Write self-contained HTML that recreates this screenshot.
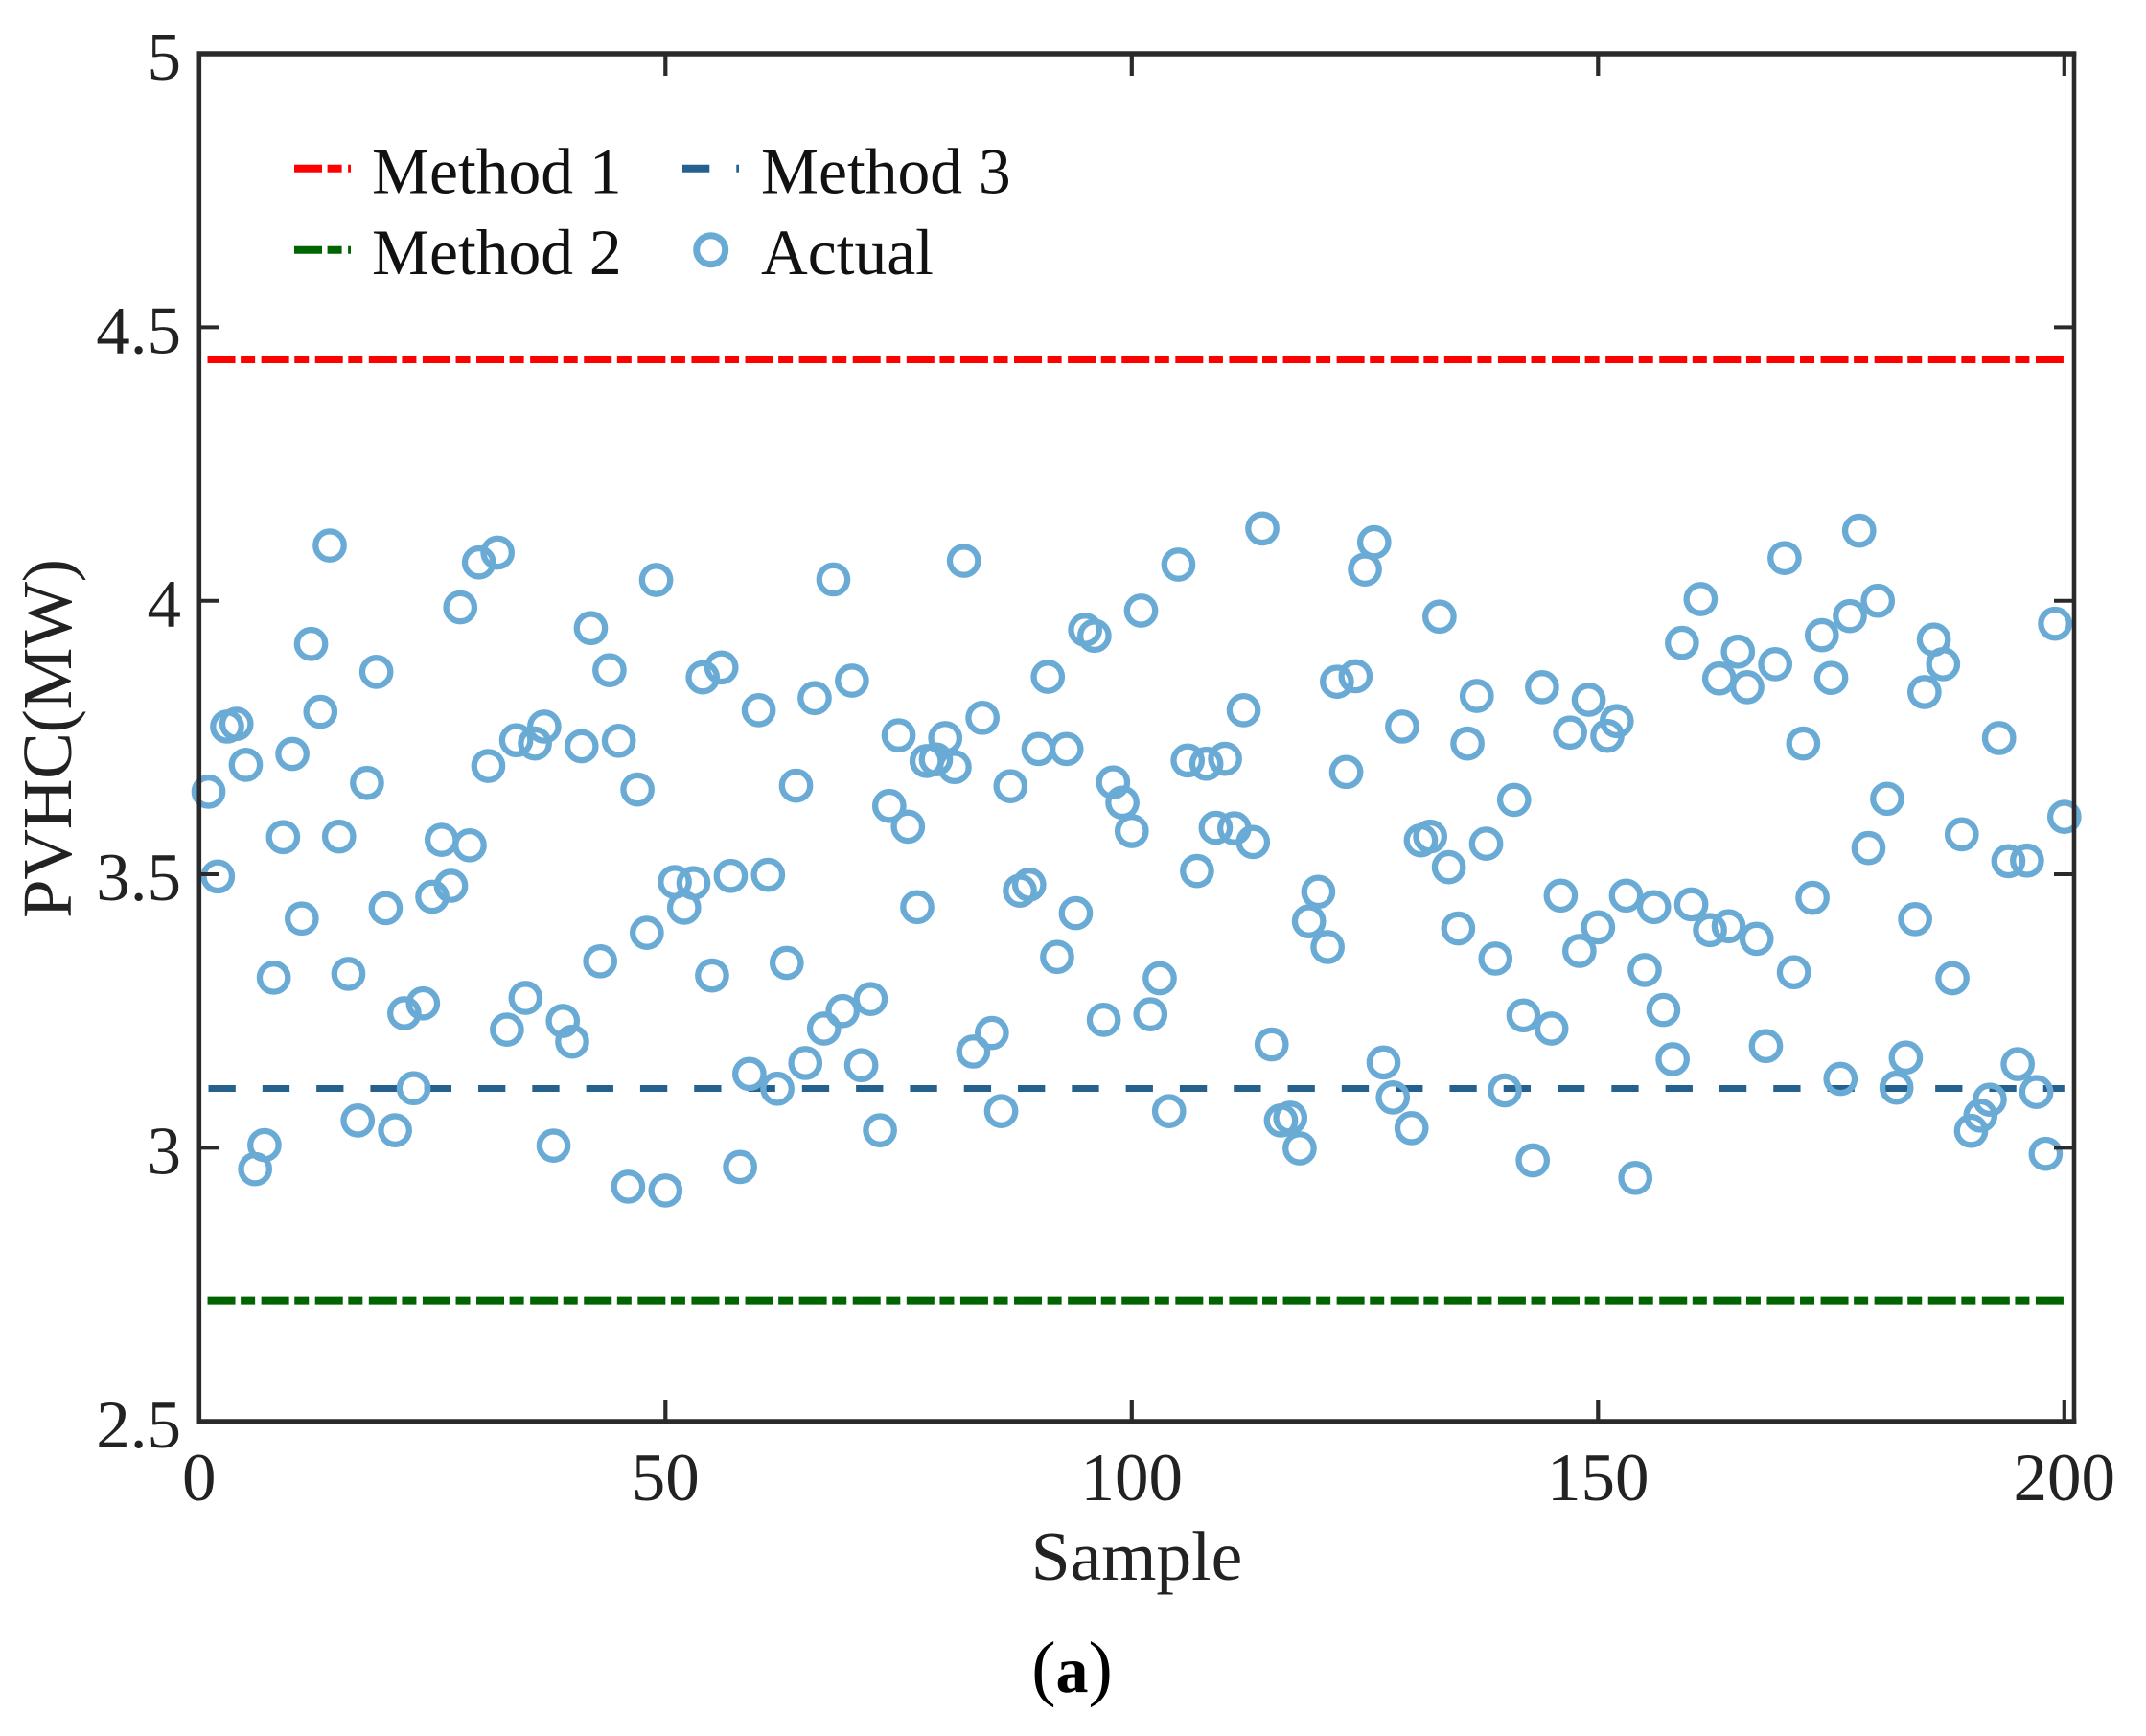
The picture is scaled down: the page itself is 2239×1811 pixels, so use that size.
<!DOCTYPE html>
<html lang="en">
<head>
<meta charset="utf-8">
<title>PVHC by Sample</title>
<style>
  html, body { margin: 0; padding: 0; background: #ffffff; }
  body { width: 2239px; height: 1811px; overflow: hidden; }
  svg { display: block; }
  text { font-family: "Liberation Serif", serif; fill: #222222; }
</style>
</head>
<body>
<svg id="chart" xmlns="http://www.w3.org/2000/svg" width="2239" height="1811" viewBox="0 0 2239 1811">
  <rect x="0" y="0" width="2239" height="1811" fill="#ffffff"/>
  <g id="method-lines"></g>
  <g id="actual-points"></g>
  <g id="ticks"></g>
  <g id="tick-labels" font-size="71"></g>
  <g stroke="#2a2a2a" fill="none">
    <line x1="205.5" x2="2166.3" y1="56" y2="56" stroke-width="5.5"/>
    <line x1="205.5" x2="2166.3" y1="1482.7" y2="1482.7" stroke-width="5"/>
    <line x1="207.8" x2="207.8" y1="54" y2="1485" stroke-width="4.6"/>
    <line x1="2164" x2="2164" y1="54" y2="1485" stroke-width="4.6"/>
  </g>
  <text x="1186" y="1648" font-size="73.5" text-anchor="middle">Sample</text>
  <text transform="translate(74,770.5) rotate(-90)" font-size="73" text-anchor="middle" textLength="375" lengthAdjust="spacing">PVHC(MW)</text>
  <text x="1118.5" y="1765" font-size="76" text-anchor="middle" style="fill:#000000">(<tspan font-weight="bold" font-size="68">a</tspan>)</text>
  <g>
    <g>
      <line x1="307" x2="366" y1="175.7" y2="175.7" stroke="#ff0000" stroke-width="8" stroke-dasharray="29 5.6 15 6.5"/>
      <text x="388" y="201.7" font-size="67.5" style="fill:#111111">Method 1</text>
    </g>
    <g>
      <line x1="712" x2="771" y1="175.7" y2="175.7" stroke="#24618f" stroke-width="8" stroke-dasharray="28.3 28"/>
      <text x="794" y="201.7" font-size="67.5" style="fill:#111111">Method 3</text>
    </g>
    <g>
      <line x1="307" x2="366" y1="260.7" y2="260.7" stroke="#006400" stroke-width="8" stroke-dasharray="29 5.6 15 6.5"/>
      <text x="388" y="286" font-size="67.5" style="fill:#111111">Method 2</text>
    </g>
    <g>
      <circle cx="741.7" cy="260.7" r="15" fill="none" stroke="#6aabd6" stroke-width="7"/>
      <text x="794" y="286" font-size="67.5" style="fill:#111111">Actual</text>
    </g>
  </g>
</svg>
<script>
const xTicks = [0, 50, 100, 150, 200];
const yTicks = [2.5, 3, 3.5, 4, 4.5, 5];
const yTickLabels = ["2.5", "3", "3.5", "4", "4.5", "5"];
const sampleRange = [1, 200];
const method1Level = 4.441;
const method2Level = 2.721;
const method3Level = 3.1085;
const actualValues = [
  3.651, 3.496, 3.770, 3.775, 3.700, 2.961, 3.005, 3.311, 3.568, 3.720,
  3.419, 3.921, 3.797, 4.101, 3.569, 3.318, 3.050, 3.667, 3.870, 3.438,
  3.032, 3.246, 3.109, 3.264, 3.459, 3.563, 3.479, 3.988, 3.553, 4.070,
  3.698, 4.088, 3.216, 3.745, 3.274, 3.739, 3.770, 3.004, 3.232, 3.194,
  3.734, 3.950, 3.341, 3.873, 3.744, 2.929, 3.655, 3.393, 4.038, 2.922,
  3.486, 3.439, 3.484, 3.860, 3.315, 3.878, 3.497, 2.965, 3.135, 3.800,
  3.499, 3.108, 3.338, 3.662, 3.155, 3.822, 3.218, 4.039, 3.250, 3.854,
  3.151, 3.272, 3.032, 3.625, 3.754, 3.587, 3.440, 3.707, 3.710, 3.749,
  3.696, 4.073, 3.176, 3.786, 3.210, 3.067, 3.661, 3.470, 3.481, 3.729,
  3.861, 3.349, 3.729, 3.429, 3.947, 3.936, 3.234, 3.668, 3.631, 3.579,
  3.982, 3.244, 3.310, 3.067, 4.066, 3.708, 3.506, 3.702, 3.585, 3.711,
  3.584, 3.800, 3.559, 4.132, 3.189, 3.050, 3.055, 2.999, 3.414, 3.468,
  3.367, 3.852, 3.687, 3.862, 4.057, 4.107, 3.156, 3.092, 3.770, 3.036,
  3.562, 3.569, 3.971, 3.513, 3.401, 3.739, 3.826, 3.556, 3.346, 3.105,
  3.636, 3.242, 2.977, 3.842, 3.218, 3.461, 3.759, 3.360, 3.819, 3.403,
  3.753, 3.780, 3.461, 2.945, 3.325, 3.440, 3.252, 3.162, 3.923, 3.445,
  4.003, 3.398, 3.858, 3.405, 3.907, 3.842, 3.382, 3.186, 3.884, 4.078,
  3.321, 3.739, 3.457, 3.937, 3.859, 3.126, 3.972, 4.128, 3.548, 4.000,
  3.638, 3.110, 3.165, 3.418, 3.833, 3.929, 3.884, 3.310, 3.573, 3.031,
  3.059, 3.088, 3.749, 3.524, 3.153, 3.525, 3.102, 2.989, 3.958, 3.605
];

const SVG_NS = "http://www.w3.org/2000/svg";
const plotLeft = 207.8;
const plotRight = 2164;
const plotTop = 56;
const plotBottom = 1482.7;
const xScale = v => plotLeft + v * 9.73;
const yScale = v => plotTop + (5 - v) * 570.7;

function make(tag, attrs, parent) {
  const el = document.createElementNS(SVG_NS, tag);
  for (const key in attrs) el.setAttribute(key, attrs[key]);
  parent.appendChild(el);
  return el;
}

const lineGroup = document.getElementById("method-lines");
const pointGroup = document.getElementById("actual-points");
const tickGroup = document.getElementById("ticks");
const labelGroup = document.getElementById("tick-labels");

const dashDot = "29 5.6 15 6.5";
const method1Line = make("line", { x1: xScale(sampleRange[0]) - 1, x2: xScale(sampleRange[1]), y1: yScale(method1Level), y2: yScale(method1Level), stroke: "#ff0000", "stroke-width": 8, "stroke-dasharray": dashDot }, lineGroup);


const method2Line = make("line", { x1: xScale(sampleRange[0]) - 1, x2: xScale(sampleRange[1]), y1: yScale(method2Level), y2: yScale(method2Level), stroke: "#006400", "stroke-width": 8, "stroke-dasharray": dashDot }, lineGroup);


const method3Line = make("line", { x1: xScale(sampleRange[0]), x2: xScale(sampleRange[1]), y1: yScale(method3Level), y2: yScale(method3Level), stroke: "#24618f", "stroke-width": 7, "stroke-dasharray": "28.3 28" }, lineGroup);



actualValues.forEach((value, index) => {
  const point = make("circle", { cx: xScale(index + 1), cy: yScale(value), r: 14.7, fill: "none", stroke: "#6aabd6", "stroke-width": 6.3 }, pointGroup);
  
  
});

xTicks.forEach(value => {
  const x = xScale(value);
  if (value !== 0) {
    const bottomTick = make("line", { x1: x, x2: x, y1: plotBottom, y2: plotBottom - 22, stroke: "#2a2a2a", "stroke-width": 4.2 }, tickGroup);
    
    
    const topTick = make("line", { x1: x, x2: x, y1: plotTop, y2: plotTop + 23, stroke: "#2a2a2a", "stroke-width": 4.2 }, tickGroup);
    
    
  }
  const label = make("text", { x: x, y: 1565, "text-anchor": "middle" }, labelGroup);
  
  
  label.textContent = String(value);
});

yTicks.forEach((value, index) => {
  const y = yScale(value);
  if (value !== 5 && value !== 2.5) {
    const leftTick = make("line", { x1: plotLeft, x2: plotLeft + 21, y1: y, y2: y, stroke: "#2a2a2a", "stroke-width": 4 }, tickGroup);
    
    
    const rightTick = make("line", { x1: plotRight, x2: plotRight - 21, y1: y, y2: y, stroke: "#2a2a2a", "stroke-width": 4 }, tickGroup);
    
    
  }
  const label = make("text", { x: 189, y: y + 27, "text-anchor": "end" }, labelGroup);
  
  
  label.textContent = yTickLabels[index];
});
</script>
</body>
</html>
